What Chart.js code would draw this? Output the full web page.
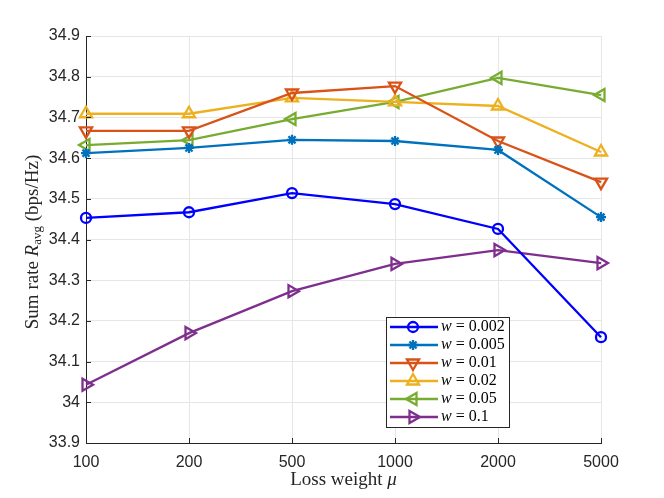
<!DOCTYPE html>
<html>
<head>
<meta charset="utf-8">
<script src="https://cdn.jsdelivr.net/npm/chart.js@4"></script>
<style>
  html, body { margin: 0; padding: 0; background: #fff; }
  #wrap { width: 664px; height: 498px; }
</style>
</head>
<body>
<div id="wrap"><canvas id="chart" width="664" height="498"></canvas></div>
<script>
const categories = ['100', '200', '500', '1000', '2000', '5000'];
const weights = ['0.002', '0.005', '0.01', '0.02', '0.05', '0.1'];

const rateW0002 = [34.453, 34.467, 34.514, 34.487, 34.426, 34.160];
const rateW0005 = [34.612, 34.625, 34.645, 34.642, 34.620, 34.455];
const rateW001 = [34.667, 34.667, 34.760, 34.777, 34.642, 34.541];
const rateW002 = [34.709, 34.709, 34.748, 34.738, 34.728, 34.615];
const rateW005 = [34.632, 34.644, 34.696, 34.738, 34.797, 34.755];
const rateW01 = [34.043, 34.170, 34.273, 34.340, 34.374, 34.342];

const yMin = 33.9;
const yMax = 34.9;
const yStep = 0.1;

const tickFont = { family: '"Liberation Sans", Arial, sans-serif', size: 16 };
const serif = '"Liberation Serif", "DejaVu Serif", serif';

const styles = [
  { color: '#0000FF', pointStyle: 'circle', radius: 5, rotation: 0 },
  { color: '#0072BD', pointStyle: 'star', radius: 5, rotation: 0 },
  { color: '#D95319', pointStyle: 'triangle', radius: 7, rotation: 180 },
  { color: '#EDB120', pointStyle: 'triangle', radius: 7, rotation: 0 },
  { color: '#77AC30', pointStyle: 'triangle', radius: 7, rotation: 270 },
  { color: '#7E2F8E', pointStyle: 'triangle', radius: 7, rotation: 90 }
];

const seriesData = [rateW0002, rateW0005, rateW001, rateW002, rateW005, rateW01];

const datasets = seriesData.map((data, i) => ({
  label: 'w = ' + weights[i],
  data,
  borderColor: styles[i].color,
  backgroundColor: 'rgba(0,0,0,0)',
  borderWidth: 2.3,
  pointStyle: styles[i].pointStyle,
  pointRadius: styles[i].radius,
  pointRotation: styles[i].rotation,
  pointBorderWidth: 2.3,
  pointBorderColor: styles[i].color,
  pointBackgroundColor: styles[i].pointStyle === 'star' ? styles[i].color : 'rgba(0,0,0,0)',
  tension: 0
}));

// extra drawing: inward ticks, axis titles, legend box
const decorations = {
  id: 'decorations',
  afterDraw(chart) {
    const { ctx, chartArea: a, scales } = chart;
    ctx.save();

    // inward tick marks
    ctx.strokeStyle = '#262626';
    ctx.lineWidth = 1;
    ctx.beginPath();
    scales.x.ticks.forEach((t, i) => {
      const x = Math.round(scales.x.getPixelForTick(i)) + 0.5;
      ctx.moveTo(x, a.bottom);
      ctx.lineTo(x, a.bottom - 5);
    });
    scales.y.ticks.forEach((t, i) => {
      const y = Math.round(scales.y.getPixelForTick(i)) + 0.5;
      ctx.moveTo(a.left, y);
      ctx.lineTo(a.left + 5, y);
    });
    ctx.stroke();

    // x title
    ctx.fillStyle = '#262626';
    ctx.textBaseline = 'middle';
    const xt1 = 'Loss weight ';
    ctx.font = '19px ' + serif;
    const w1 = ctx.measureText(xt1).width;
    ctx.font = 'italic 19px ' + serif;
    const w2 = ctx.measureText('\u03bc').width;
    let xs = (a.left + a.right) / 2 - (w1 + w2) / 2;
    ctx.textAlign = 'left';
    ctx.font = '19px ' + serif;
    ctx.fillText(xt1, xs, 480);
    ctx.font = 'italic 19px ' + serif;
    ctx.fillText('\u03bc', xs + w1, 480);

    // y title with subscript
    ctx.save();
    ctx.translate(33, 242);
    ctx.rotate(-Math.PI / 2);
    const parts = [
      { t: 'Sum rate ', f: '19px ' + serif, dy: 0 },
      { t: 'R', f: 'italic 19px ' + serif, dy: 0 },
      { t: 'avg', f: '13px ' + serif, dy: 5 },
      { t: ' (bps/Hz)', f: '19px ' + serif, dy: 0 }
    ];
    let total = 0;
    parts.forEach(p => { ctx.font = p.f; p.w = ctx.measureText(p.t).width; total += p.w; });
    let px = -total / 2;
    parts.forEach(p => {
      ctx.font = p.f;
      ctx.fillText(p.t, px, p.dy);
      px += p.w;
    });
    ctx.restore();

    // legend
    const lx = 386, ly = 317, lw = 123, lh = 110;
    ctx.fillStyle = '#ffffff';
    ctx.fillRect(lx, ly, lw, lh);
    ctx.strokeStyle = '#262626';
    ctx.lineWidth = 1;
    ctx.strokeRect(lx + 0.5, ly + 0.5, lw, lh);

    chart.data.datasets.forEach((ds, i) => {
      const cy = 327 + i * 18;
      ctx.strokeStyle = ds.borderColor;
      ctx.lineWidth = 2.3;
      ctx.beginPath();
      ctx.moveTo(390, cy);
      ctx.lineTo(438, cy);
      ctx.stroke();
      ctx.fillStyle = ds.pointBackgroundColor;
      Chart.helpers.drawPoint(ctx, {
        pointStyle: ds.pointStyle,
        rotation: ds.pointRotation,
        radius: ds.pointRadius,
        borderWidth: 2.3
      }, 413, cy);

      ctx.fillStyle = '#000000';
      ctx.textAlign = 'left';
      ctx.textBaseline = 'middle';
      ctx.font = 'italic 16px ' + serif;
      ctx.fillText('w', 441, cy);
      const ww = ctx.measureText('w').width;
      ctx.font = '16px ' + serif;
      ctx.fillText(' = ' + weights[i], 441 + ww, cy);
    });

    ctx.restore();
  }
};

new Chart(document.getElementById('chart'), {
  type: 'line',
  data: { labels: categories, datasets },
  options: {
    responsive: false,
    animation: false,
    layout: { padding: { left: 0, top: 36, right: 63, bottom: 0 } },
    plugins: {
      legend: { display: false },
      tooltip: { enabled: false }
    },
    scales: {
      x: {
        type: 'category',
        offset: false,
        grid: { color: '#e6e6e6', drawTicks: false },
        border: { display: true, color: '#262626', width: 1 },
        ticks: { color: '#262626', font: tickFont, padding: 10, maxRotation: 0 },
        afterFit(s) { s.height = 55; }
      },
      y: {
        min: yMin,
        max: yMax,
        grid: { color: '#e6e6e6', drawTicks: false },
        border: { display: true, color: '#262626', width: 1 },
        ticks: {
          stepSize: yStep,
          color: '#262626',
          font: tickFont,
          padding: 6,
          callback: v => String(+v.toFixed(1))
        },
        afterFit(s) { s.width = 86; }
      }
    }
  },
  plugins: [decorations]
});
</script>
</body>
</html>
